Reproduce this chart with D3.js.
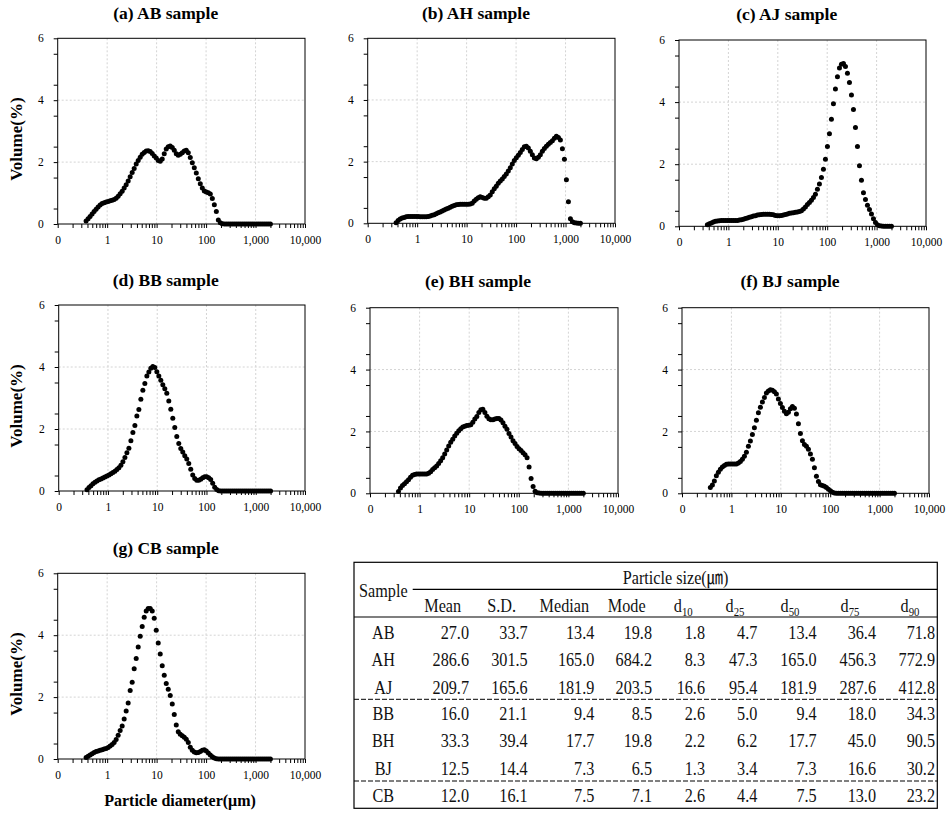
<!DOCTYPE html>
<html>
<head>
<meta charset="utf-8">
<script src="https://cdn.jsdelivr.net/npm/d3@7"></script>
<style>
  html, body { margin: 0; padding: 0; background: #fff; }
  svg { display: block; }
</style>
</head>
<body>
<div id="chart"></div>
<script>
// ---------------- DATA ----------------
// particle-size channels (µm)
const sizes = [0.375,0.412,0.452,0.496,0.545,0.598,0.656,0.721,0.791,0.868,
  0.953,1.047,1.149,1.261,1.385,1.520,1.669,1.832,2.011,2.208,
  2.423,2.660,2.920,3.206,3.519,3.863,4.241,4.656,5.111,5.611,
  6.159,6.761,7.422,8.148,8.944,9.819,10.78,11.83,12.99,14.26,
  15.65,17.18,18.86,20.71,22.73,24.95,27.39,30.07,33.01,36.24,
  39.78,43.67,47.94,52.62,57.77,63.41,69.61,76.42,83.89,92.09,
  101.1,111.0,121.8,133.7,146.8,161.2,176.9,194.2,213.2,234.1,
  256.9,282.1,309.6,339.9,373.1,409.6,449.7,493.6,541.9,594.9,
  653.0,716.9,786.9,863.9,948.3,1041,1143,1255,1377,1512,
  1660,1822,2000];

const volAB = [0.10,0.17,0.24,0.32,0.40,0.48,0.55,0.61,0.66,0.69,
  0.71,0.73,0.75,0.77,0.79,0.83,0.90,0.98,1.06,1.16,
  1.27,1.39,1.53,1.66,1.79,1.94,2.05,2.16,2.25,2.31,
  2.36,2.37,2.34,2.28,2.20,2.13,2.05,2.03,2.10,2.27,
  2.42,2.50,2.52,2.47,2.38,2.27,2.22,2.25,2.30,2.36,
  2.38,2.30,2.15,1.98,1.82,1.65,1.46,1.30,1.16,1.07,
  1.03,1.01,0.97,0.82,0.62,0.40,0.13,0.04,0.01,0,
  0,0,0,0,0,0,0,0,0,0,
  0,0,0,0,0,0,0,0,0,0,
  0,0,0];

const volAH = [0.02,0.09,0.14,0.17,0.19,0.21,0.22,0.22,0.22,0.22,
  0.22,0.22,0.21,0.21,0.21,0.21,0.22,0.24,0.26,0.28,
  0.31,0.34,0.37,0.40,0.43,0.46,0.49,0.52,0.55,0.58,
  0.60,0.61,0.62,0.62,0.62,0.62,0.62,0.63,0.65,0.72,
  0.78,0.83,0.86,0.84,0.81,0.81,0.86,0.92,1.02,1.12,
  1.20,1.30,1.37,1.44,1.52,1.60,1.70,1.80,1.92,2.04,
  2.13,2.21,2.30,2.39,2.48,2.50,2.44,2.34,2.22,2.12,
  2.09,2.14,2.22,2.34,2.43,2.50,2.56,2.62,2.68,2.76,
  2.82,2.78,2.70,2.42,2.08,1.41,0.70,0.15,0.05,0.02,
  0.01,0,0];

const volAJ = [0.05,0.08,0.11,0.14,0.16,0.17,0.18,0.19,0.19,0.19,
  0.19,0.19,0.19,0.19,0.19,0.19,0.20,0.21,0.23,0.25,
  0.27,0.29,0.31,0.33,0.34,0.36,0.37,0.38,0.39,0.39,
  0.39,0.39,0.38,0.37,0.35,0.34,0.34,0.35,0.36,0.38,
  0.40,0.42,0.43,0.44,0.45,0.46,0.48,0.50,0.56,0.62,
  0.70,0.77,0.84,0.93,1.03,1.19,1.36,1.57,1.84,2.16,
  2.57,2.98,3.45,3.95,4.42,4.82,5.10,5.22,5.24,5.15,
  4.93,4.63,4.23,3.76,3.18,2.57,1.95,1.48,1.08,0.86,
  0.68,0.54,0.40,0.24,0.12,0.05,0.02,0.01,0,0,
  0,0,0];

const volBB = [0.04,0.11,0.17,0.23,0.28,0.32,0.36,0.39,0.42,0.45,
  0.48,0.52,0.56,0.60,0.64,0.69,0.75,0.83,0.94,1.08,
  1.23,1.38,1.62,1.89,2.11,2.42,2.63,2.96,3.25,3.47,
  3.71,3.84,3.96,4.02,3.98,3.85,3.71,3.57,3.43,3.30,
  3.15,2.90,2.64,2.35,2.05,1.76,1.53,1.37,1.26,1.14,
  1.03,0.89,0.70,0.52,0.40,0.35,0.35,0.38,0.43,0.46,
  0.46,0.43,0.37,0.25,0.12,0.05,0.01,0,0,0,
  0,0,0,0,0,0,0,0,0,0,
  0,0,0,0,0,0,0,0,0,0,
  0,0,0];

const volBH = [0.06,0.17,0.25,0.31,0.37,0.44,0.52,0.58,0.61,0.62,
  0.62,0.62,0.62,0.62,0.62,0.65,0.70,0.77,0.83,0.88,
  0.96,1.05,1.15,1.27,1.40,1.53,1.65,1.75,1.85,1.94,
  2.02,2.09,2.14,2.17,2.19,2.20,2.22,2.30,2.40,2.48,
  2.61,2.70,2.72,2.61,2.49,2.41,2.38,2.38,2.40,2.42,
  2.42,2.37,2.28,2.17,2.07,1.93,1.82,1.70,1.61,1.51,
  1.44,1.38,1.31,1.25,1.15,0.85,0.48,0.22,0.07,0.02,
  0.01,0,0,0,0,0,0,0,0,0,
  0,0,0,0,0,0,0,0,0,0,
  0,0,0];

const volBJ = [0.19,0.27,0.40,0.57,0.68,0.78,0.85,0.90,0.94,0.95,
  0.95,0.95,0.95,0.95,0.98,1.03,1.10,1.20,1.33,1.52,
  1.69,1.90,2.12,2.36,2.60,2.78,2.95,3.10,3.24,3.31,
  3.35,3.33,3.28,3.21,3.05,2.90,2.77,2.65,2.57,2.62,
  2.73,2.81,2.75,2.56,2.25,1.93,1.70,1.58,1.52,1.42,
  1.27,1.10,0.83,0.55,0.38,0.28,0.25,0.23,0.19,0.13,
  0.08,0.03,0.01,0,0,0,0,0,0,0,
  0,0,0,0,0,0,0,0,0,0,
  0,0,0,0,0,0,0,0,0,0,
  0,0,0];

const volCB = [0.05,0.09,0.13,0.17,0.21,0.24,0.26,0.28,0.30,0.32,
  0.34,0.37,0.42,0.47,0.53,0.63,0.77,0.92,1.07,1.29,
  1.55,1.81,2.21,2.48,2.92,3.25,3.62,3.97,4.28,4.58,
  4.78,4.86,4.86,4.78,4.55,4.16,3.75,3.39,3.01,2.71,
  2.44,2.25,2.05,1.78,1.44,1.10,0.88,0.80,0.75,0.70,
  0.64,0.53,0.38,0.28,0.23,0.20,0.21,0.24,0.28,0.30,
  0.26,0.19,0.13,0.07,0.03,0.01,0,0,0,0,
  0,0,0,0,0,0,0,0,0,0,
  0,0,0,0,0,0,0,0,0,0,
  0,0,0];

const panelTitles = ["(a) AB sample","(b) AH sample","(c) AJ sample","(d) BB sample","(e) BH sample","(f) BJ sample","(g) CB sample"];
const xTickValues = [0.1, 1, 10, 100, 1000, 10000];
const xTickLabels = ["0", "1", "10", "100", "1,000", "10,000"];
const yTickValues = [0, 2, 4, 6];
const yTickLabels = ["0", "2", "4", "6"];
const yLabel = "Volume(%)";
const xLabel = "Particle diameter(\u03bcm)";

// table data
const tableSamples = ["AB","AH","AJ","BB","BH","BJ","CB"];
const tableHeaders = ["Mean","S.D.","Median","Mode","d|10","d|25","d|50","d|75","d|90"];
const meanVals   = [27.0,286.6,209.7,16.0,33.3,12.5,12.0];
const sdVals     = [33.7,301.5,165.6,21.1,39.4,14.4,16.1];
const medianVals = [13.4,165.0,181.9,9.4,17.7,7.3,7.5];
const modeVals   = [19.8,684.2,203.5,8.5,19.8,6.5,7.1];
const d10Vals    = [1.8,8.3,16.6,2.6,2.2,1.3,2.6];
const d25Vals    = [4.7,47.3,95.4,5.0,6.2,3.4,4.4];
const d50Vals    = [13.4,165.0,181.9,9.4,17.7,7.3,7.5];
const d75Vals    = [36.4,456.3,287.6,18.0,45.0,16.6,13.0];
const d90Vals    = [71.8,772.9,412.8,34.3,90.5,30.2,23.2];

// ---------------- LAYOUT ----------------
const panels = [
  {vals: volAB, l: 57.7, r: 305, t: 38.3, b: 224,   tx: 165.7, ty: 19,  ylab: true},
  {vals: volAH, l: 367.7, r: 615, t: 38.3, b: 223.3, tx: 476,   ty: 19,  ylab: false},
  {vals: volAJ, l: 679, r: 926, t: 40,   b: 226.3, tx: 786.7, ty: 20,  ylab: false},
  {vals: volBB, l: 58.7, r: 305, t: 305,  b: 491,   tx: 165.7, ty: 286, ylab: true},
  {vals: volBH, l: 370, r: 618, t: 307.7, b: 493.3, tx: 478,   ty: 287, ylab: false},
  {vals: volBJ, l: 682, r: 929, t: 307.7, b: 493.3, tx: 790,   ty: 287, ylab: false},
  {vals: volCB, l: 57.7, r: 305, t: 573.3, b: 759,  tx: 165.7, ty: 554, ylab: true, xlab: true}
];

const svg = d3.select("#chart").append("svg").attr("width", 950).attr("height", 818);
const SERIF = "'Liberation Serif','Times New Roman',serif";

panels.forEach((p, k) => {
  const x = d3.scaleLog().domain([0.1, 10000]).range([p.l, p.r]);
  const y = d3.scaleLinear().domain([0, 6]).range([p.b, p.t]);
  const g = svg.append("g");

  // gridlines
  g.selectAll("line.vg").data([1, 10, 100, 1000]).enter().append("line")
    .attr("x1", d => x(d)).attr("x2", d => x(d)).attr("y1", p.t).attr("y2", p.b)
    .attr("stroke", "#d4d4d4").attr("stroke-width", 1).attr("stroke-dasharray", "2,2");
  g.selectAll("line.hg").data([2, 4]).enter().append("line")
    .attr("x1", p.l).attr("x2", p.r).attr("y1", d => y(d)).attr("y2", d => y(d))
    .attr("stroke", "#d4d4d4").attr("stroke-width", 1).attr("stroke-dasharray", "2,2");

  // minor ticks
  const xMinor = x.ticks().filter(v => xTickValues.indexOf(v) < 0);
  g.append("g").attr("transform", `translate(0,${p.b})`)
    .call(d3.axisBottom(x).tickValues(xMinor).tickFormat("").tickSize(4))
    .call(a => a.select(".domain").remove());
  const yMinor = d3.range(0.5, 6, 1);
  g.append("g").attr("transform", `translate(${p.l},0)`)
    .call(d3.axisLeft(y).tickValues(yMinor).tickFormat("").tickSize(4))
    .call(a => a.select(".domain").remove());

  // major axes
  const xa = g.append("g").attr("transform", `translate(0,${p.b})`)
    .call(d3.axisBottom(x).tickValues(xTickValues).tickFormat((d, i) => xTickLabels[i]).tickSize(4).tickPadding(8));
  const ya = g.append("g").attr("transform", `translate(${p.l},0)`)
    .call(d3.axisLeft(y).tickValues(yTickValues).tickFormat((d, i) => yTickLabels[i]).tickSize(4).tickPadding(10));
  [xa, ya].forEach(a => {
    a.select(".domain").remove();
    a.selectAll("text").attr("font-family", SERIF).attr("font-size", 11.5).attr("fill", "#000");
  });
  g.selectAll(".tick line").attr("stroke", "#000");

  // frame
  g.append("rect").attr("x", p.l).attr("y", p.t).attr("width", p.r - p.l).attr("height", p.b - p.t)
    .attr("fill", "none").attr("stroke", "#000").attr("stroke-width", 1);

  // points
  g.selectAll("circle").data(sizes.map((s, i) => [s, p.vals[i]])).enter().append("circle")
    .attr("cx", d => x(d[0])).attr("cy", d => y(d[1])).attr("r", 2.5).attr("fill", "#000");

  // title
  svg.append("text").attr("x", p.tx).attr("y", p.ty).attr("text-anchor", "middle")
    .attr("font-family", SERIF).attr("font-weight", "bold").attr("font-size", 17.5)
    .text(panelTitles[k]);

  if (p.ylab) {
    const cy = (p.t + p.b) / 2 + 8;
    svg.append("text").attr("transform", `translate(22,${cy}) rotate(-90)`)
      .attr("text-anchor", "middle").attr("font-family", SERIF).attr("font-weight", "bold")
      .attr("font-size", 17).text(yLabel);
  }
  if (p.xlab) {
    svg.append("text").attr("x", 180).attr("y", 806).attr("text-anchor", "middle")
      .attr("font-family", SERIF).attr("font-weight", "bold").attr("font-size", 16)
      .text(xLabel);
  }
});

// ---------------- TABLE ----------------
const T = {l: 354, r: 937.3, t: 562.3, b: 808.3};
const tg = svg.append("g");
const TF = "'Liberation Serif','Times New Roman','Noto Sans CJK KR',serif";
const SX = 0.9;
function ttext(x, yy, str, anchor, size) {
  return tg.append("text").attr("transform", `translate(${x},${yy}) scale(${SX},1)`)
    .attr("text-anchor", anchor).attr("font-family", TF).attr("font-size", size || 18)
    .attr("fill", "#111").text(str);
}
tg.append("rect").attr("x", T.l).attr("y", T.t).attr("width", T.r - T.l).attr("height", T.b - T.t)
  .attr("fill", "none").attr("stroke", "#000").attr("stroke-width", 1.2);
tg.append("line").attr("x1", 412.7).attr("x2", T.r).attr("y1", 589.3).attr("y2", 589.3).attr("stroke", "#000").attr("stroke-width", 1.2);
tg.append("line").attr("x1", T.l).attr("x2", T.r).attr("y1", 617).attr("y2", 617).attr("stroke", "#000").attr("stroke-width", 1.2);
[699.3, 781].forEach(yy => {
  tg.append("line").attr("x1", T.l).attr("x2", T.r).attr("y1", yy).attr("y2", yy)
    .attr("stroke", "#000").attr("stroke-width", 1).attr("stroke-dasharray", "5,2");
});

ttext(383.3, 597, "Sample", "middle");
ttext(675.5, 584, "Particle size(\u339b)", "middle");

const headerCenters = [442.7, 501.7, 564.3, 626.7, 683.3, 735, 790, 850, 910];
tableHeaders.forEach((h, i) => {
  const parts = h.split("|");
  const t = ttext(headerCenters[i], 611.7, parts[0], "middle");
  if (parts.length > 1) {
    t.append("tspan").attr("font-size", 12).attr("dy", 4).text(parts[1]);
  }
});

const colRight = [469, 527.7, 594.3, 652, 705, 757.3, 816.7, 876, 935];
const cols = [meanVals, sdVals, medianVals, modeVals, d10Vals, d25Vals, d50Vals, d75Vals, d90Vals];
const rowBase = [639, 666, 693.5, 720.3, 747.3, 775, 801.7];
tableSamples.forEach((s, r) => {
  ttext(383.3, rowBase[r], s, "middle");
  cols.forEach((c, j) => {
    ttext(colRight[j], rowBase[r], c[r].toFixed(1), "end");
  });
});
</script>
</body>
</html>
